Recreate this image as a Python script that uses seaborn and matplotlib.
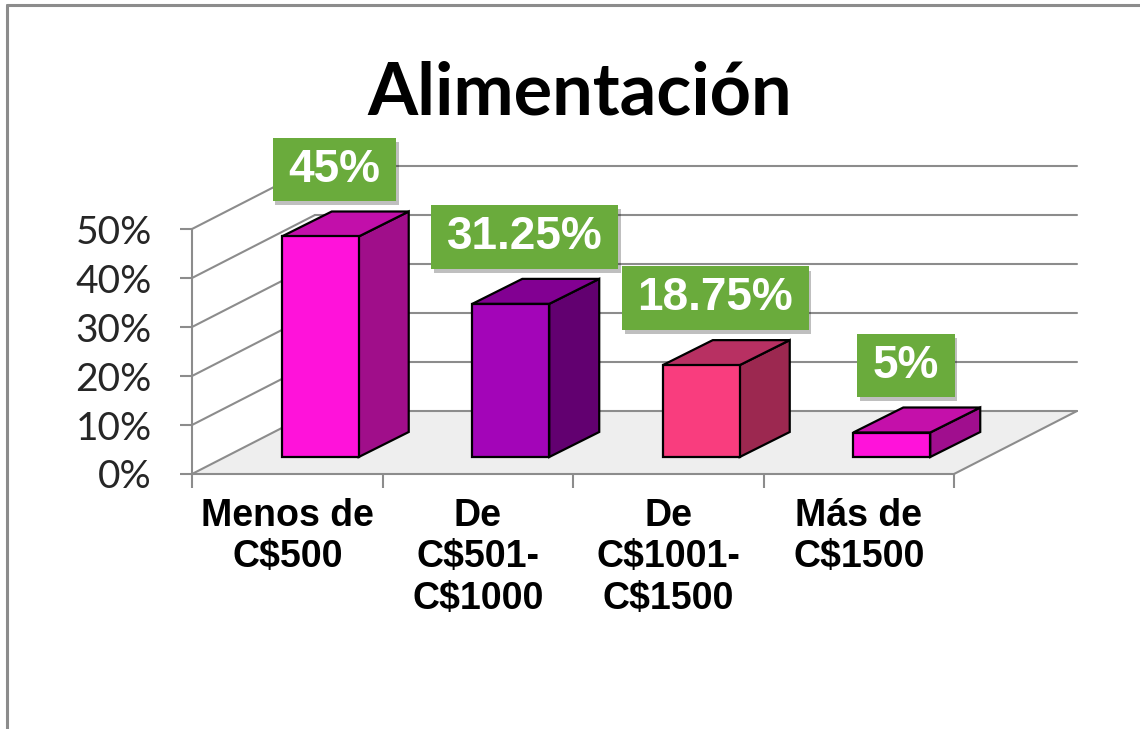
import matplotlib
matplotlib.use("Agg")
import matplotlib.pyplot as plt
import seaborn as sns
from matplotlib.patches import Polygon
from matplotlib.lines import Line2D
from matplotlib.transforms import IdentityTransform
import matplotlib.patheffects as pe

# ---------------- data ----------------
categories = ["Menos de\nC$500", "De\nC$501-\nC$1000", "De\nC$1001-\nC$1500", "Más de\nC$1500"]
values = [45, 31.25, 18.75, 5]
value_labels = ["45%", "31.25%", "18.75%", "5%"]
y_ticks = [0, 10, 20, 30, 40, 50]
y_tick_labels = ["0%", "10%", "20%", "30%", "40%", "50%"]
title = "Alimentación"

# ---------------- style ----------------
front_colors = ["#FF12DA", "#A305B8", "#F93D7E", "#FF12DA"]
side_colors = ["#A00E8A", "#620070", "#9C2850", "#A00E8E"]
top_colors = ["#C20FAA", "#820092", "#B83062", "#C410AA"]
gray = "#8C8C8C"
green = "#6AAB3C"

sns.set_theme(style="white")
W, H = 1140, 729
fig = plt.figure(figsize=(W / 100, H / 100), dpi=100)
fig.patch.set_facecolor("white")


def px(left, bottom, width, height):
    return [left / W, 1 - bottom / H, width / W, height / H]


AX_W, AX_H = 762, 245
F = fig.add_axes(px(192, 474, AX_W, AX_H))      # front plane (axes, ticks)
Bk = fig.add_axes(px(315, 411, AX_W, AX_H))     # back wall plane
P = fig.add_axes(px(225, 457, AX_W, AX_H))      # bar plane
Bk.set_zorder(0)
F.set_zorder(1)
P.set_zorder(2)

# bars via seaborn
sns.barplot(x=categories, y=values, hue=categories, palette=front_colors,
            width=0.404, edgecolor="black", linewidth=1.6, saturation=1,
            legend=False, ax=P)

for ax in (F, Bk, P):
    ax.set_xlim(-0.5, 3.5)
    ax.set_ylim(0, 50)
    ax.patch.set_alpha(0)
    ax.grid(False)
Bk.axis("off")
P.axis("off")


def disp(ax, x, y):
    return tuple(ax.transData.transform((x, y)))


# floor
floor = [disp(F, -0.5, 0), disp(F, 3.5, 0), disp(Bk, 3.5, 0), disp(Bk, -0.5, 0)]
Bk.add_patch(Polygon(floor, closed=True, transform=IdentityTransform(),
                     facecolor="#EEEEEE", edgecolor="none", clip_on=False, zorder=0))
# back wall grid lines
for v in y_ticks:
    Bk.plot([-0.5, 3.5], [v, v], color=gray, lw=1.5, clip_on=False, zorder=1)
# left wall diagonals
for v in y_ticks:
    a, b = disp(F, -0.5, v), disp(Bk, -0.5, v)
    Bk.add_line(Line2D([a[0], b[0]], [a[1], b[1]], transform=IdentityTransform(),
                       color=gray, lw=1.5, clip_on=False, zorder=1))
# right floor edge
a, b = disp(F, 3.5, 0), disp(Bk, 3.5, 0)
Bk.add_line(Line2D([a[0], b[0]], [a[1], b[1]], transform=IdentityTransform(),
                   color=gray, lw=1.5, clip_on=False, zorder=1))

# front axes: spines & ticks
for s in ("top", "right"):
    F.spines[s].set_visible(False)
for s in ("left", "bottom"):
    F.spines[s].set_color(gray)
    F.spines[s].set_linewidth(1.5)
F.set_yticks(y_ticks, y_tick_labels)
F.tick_params(axis="y", left=True, length=9, width=1.5, color=gray, pad=20,
              labelsize=28, labelcolor="#262626")
for t in F.get_yticklabels():
    t.set_family("Lato")
F.set_xticks(range(len(categories)), categories)
F.set_xticks([-0.5, 0.5, 1.5, 2.5, 3.5], minor=True)
F.tick_params(axis="x", which="major", bottom=False, length=0, pad=17,
              labelsize=27, labelcolor="black")
F.tick_params(axis="x", which="minor", bottom=True, length=10, width=1.5, color=gray)
for t in F.get_xticklabels():
    t.set_family("Liberation Sans")
    t.set_fontweight("bold")

# 3D faces for the bars
DX, DY = 50, 25
for p in P.patches:
    x0, w, h = p.get_x(), p.get_width(), p.get_height()
    i = int(round(x0 + w / 2))
    X0, Y0 = disp(P, x0, 0)
    X1, Y1 = disp(P, x0 + w, h)
    side = [(X1, Y0), (X1, Y1), (X1 + DX, Y1 + DY), (X1 + DX, Y0 + DY)]
    top = [(X0, Y1), (X1, Y1), (X1 + DX, Y1 + DY), (X0 + DX, Y1 + DY)]
    P.add_patch(Polygon(side, closed=True, transform=IdentityTransform(),
                        facecolor=side_colors[i], edgecolor="black", lw=1.6,
                        clip_on=False, zorder=1))
    P.add_patch(Polygon(top, closed=True, transform=IdentityTransform(),
                        facecolor=top_colors[i], edgecolor="black", lw=1.6,
                        clip_on=False, zorder=1))
    p.set_zorder(2)
    p.set_clip_on(False)

# data labels
for i, (v, lbl) in enumerate(zip(values, value_labels)):
    t = P.annotate(lbl, xy=(i, v), xytext=(14, 67), textcoords="offset pixels",
                   ha="center", va="center", fontsize=33, fontweight="bold",
                   color="white", family="Liberation Sans",
                   bbox=dict(boxstyle="square,pad=0.34", fc=green, ec="none",
                             mutation_aspect=0.62),
                   zorder=10, annotation_clip=False)
    t.get_bbox_patch().set_path_effects(
        [pe.SimplePatchShadow(offset=(2, -3), shadow_rgbFace="#000000", alpha=0.25),
         pe.Normal()])

# title
fig.text(580 / W, 1 - 94 / H, title, ha="center", va="center",
         fontsize=52, fontweight="bold", family="Lato", color="black")

# outer frame
fig.add_artist(Line2D([7 / W, 7 / W], [0, 1 - 5 / H], transform=fig.transFigure,
                      color=gray, lw=2.2))
fig.add_artist(Line2D([7 / W, 1], [1 - 5 / H, 1 - 5 / H], transform=fig.transFigure,
                      color=gray, lw=2.2))

fig.savefig("out.png", dpi=100, facecolor="white")
